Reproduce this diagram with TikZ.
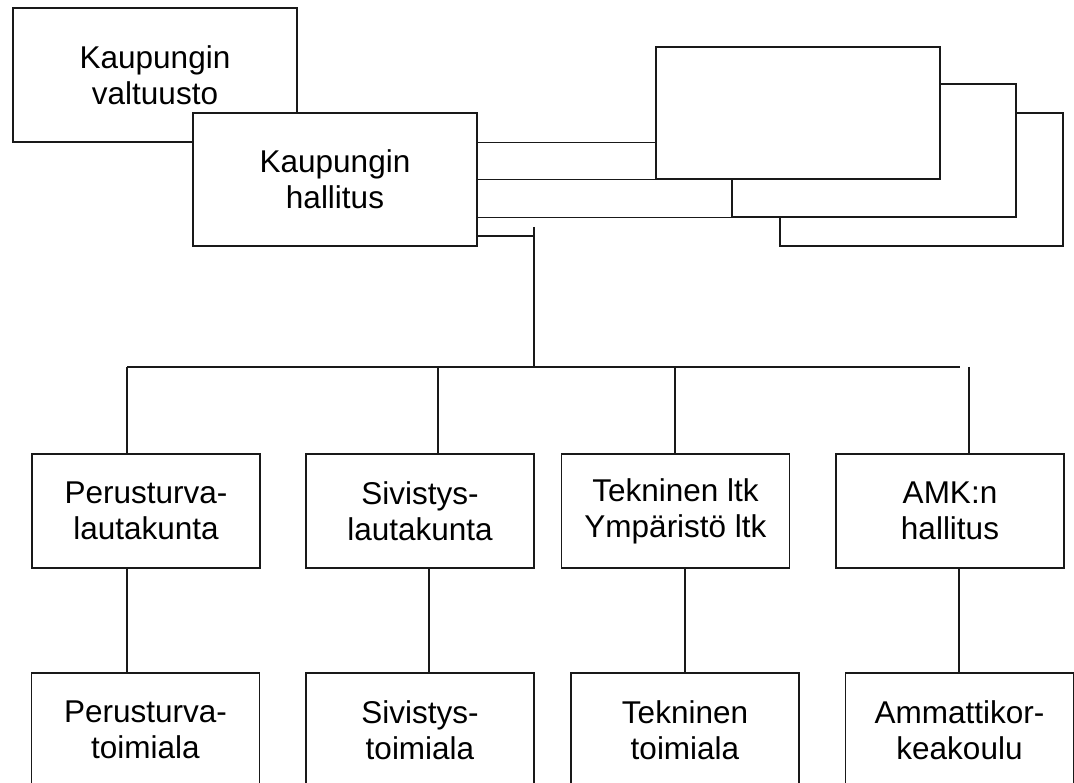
\documentclass[tikz,border=0pt]{standalone}
\usepackage{fontspec}
\setmainfont{Liberation Sans}
\usetikzlibrary{positioning}
\definecolor{ViivaMusta}{RGB}{25, 25, 25}

\begin{document}
\begin{tikzpicture}[x=1pt, y=-1pt,
    laatikko/.style={draw=ViivaMusta, line width=1.3pt, fill=white, align=center, inner sep=0pt, font=\fontsize{31.5}{36}\selectfont},
    ylalaatikko/.style={laatikko, minimum width=284pt, minimum height=133pt},
    alalaatikko/.style={laatikko, minimum width=228pt, minimum height=114pt},
    viiva/.style={ViivaMusta, line width=1.3pt}]
    \useasboundingbox (0,0) rectangle (1074,783);
    \clip (0,0) rectangle (1074,783);
    \node[ylalaatikko, minimum height=134pt] (valtuusto) at (155,75) {Kaupungin\\valtuusto};
    \node[ylalaatikko] (hallitus) at (335,179.5) {Kaupungin\\hallitus};
    % empty boxes, back to front
    \node[ylalaatikko, minimum width=283pt] (kortti3) at (921.5,179.5) {};
    \node[ylalaatikko] (kortti2) at (874,150.5) {};
    \node[ylalaatikko, minimum height=132pt] (kortti1) at (798,113) {};
    \draw[viiva] (hallitus.east |- valtuusto.south) -- (kortti1.west |- valtuusto.south);
    \draw[viiva] (hallitus.east |- kortti1.south) -- (kortti1.south west);
    \draw[viiva] (hallitus.east |- kortti2.south) -- (kortti2.south west);
    \coordinate (haara) at (534,236);
    \coordinate (vaylaV) at (127,367);
    \coordinate (vaylaO) at (960,367);
    \draw[viiva] (hallitus.east |- haara) -- (haara);
    \draw[viiva] ([yshift=9pt]haara) -- (haara |- vaylaV);
    \draw[viiva] (vaylaV) -- (vaylaO);
    % lautakunnat
    \node[alalaatikko] (lk1) at (146,511) {Perusturva-\\lautakunta};
    \node[alalaatikko] (lk2) at (420,511) {Sivistys-\\lautakunta};
    \node[alalaatikko] (lk3) at (675.5,511) {Tekninen ltk\\Ympäristö ltk};
    \node[alalaatikko] (lk4) at (950,511) {AMK:n\\hallitus};
    % toimialat
    \node[alalaatikko] (ta1) at (145.5,730) {Perusturva-\\toimiala};
    \node[alalaatikko] (ta2) at (420,730) {Sivistys-\\toimiala};
    \node[alalaatikko] (ta3) at (685,730) {Tekninen\\toimiala};
    \node[alalaatikko] (ta4) at (959.5,730) {Ammattikor-\\keakoulu};
    \draw[viiva] (vaylaV) -- (127,0 |- lk1.north);
    \draw[viiva] (438,0 |- vaylaV) -- (438,0 |- lk2.north);
    \draw[viiva] (675,0 |- vaylaV) -- (675,0 |- lk3.north);
    \draw[viiva] (969,0 |- vaylaV) -- (969,0 |- lk4.north);
    \draw[viiva] (127,0 |- lk1.south) -- (127,0 |- ta1.north);
    \draw[viiva] (429,0 |- lk2.south) -- (429,0 |- ta2.north);
    \draw[viiva] (685,0 |- lk3.south) -- (685,0 |- ta3.north);
    \draw[viiva] (959,0 |- lk4.south) -- (959,0 |- ta4.north);
\end{tikzpicture}
\end{document}
